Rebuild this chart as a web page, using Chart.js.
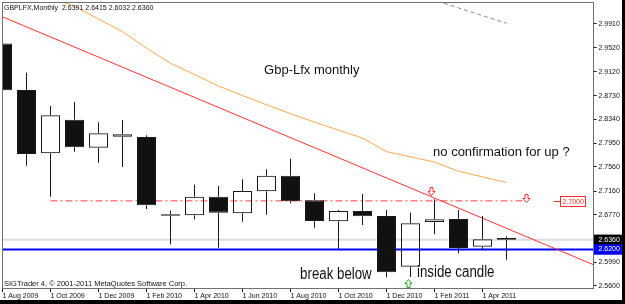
<!DOCTYPE html>
<html>
<head>
<meta charset="utf-8">
<script src="https://cdn.jsdelivr.net/npm/chart.js@4.4.0/dist/chart.umd.min.js"></script>
<style>
  html, body { margin: 0; padding: 0; background: #000; }
  canvas { display: block; }
</style>
</head>
<body>
<canvas id="myChart" width="625" height="304"></canvas>
<script>
// monthly candles GBPLFX, Aug 2009 .. May 2011
const months = ['Aug 2009', 'Sep 2009', 'Oct 2009', 'Nov 2009', 'Dec 2009', 'Jan 2010', 'Feb 2010',
  'Mar 2010', 'Apr 2010', 'May 2010', 'Jun 2010', 'Jul 2010', 'Aug 2010', 'Sep 2010', 'Oct 2010',
  'Nov 2010', 'Dec 2010', 'Jan 2011', 'Feb 2011', 'Mar 2011', 'Apr 2011', 'May 2011'];
const openV = [2.9590, 2.8824, 2.7783, 2.8335, 2.7875, 2.8056, 2.8051, 2.6779, 2.6763, 2.7069, 2.6796,
  2.7158, 2.7414, 2.7010, 2.6664, 2.6834, 2.6751, 2.5917, 2.6653, 2.6702, 2.6246, 2.6391];
const highV = [3.0008, 2.9108, 2.8560, 2.8631, 2.8292, 2.8330, 2.8079, 2.6839, 2.7266, 2.7245, 2.7355,
  2.7519, 2.7694, 2.7125, 2.6850, 2.7113, 2.6850, 2.6806, 2.7026, 2.6850, 2.6751, 2.6415];
const lowV = [2.8740, 2.7579, 2.7069, 2.7809, 2.7628, 2.7557, 2.6866, 2.6286, 2.6697, 2.6230, 2.6658,
  2.6773, 2.6960, 2.6559, 2.6209, 2.6603, 2.5743, 2.5748, 2.6450, 2.6138, 2.6192, 2.6032];
const closeV = [2.8820, 2.7771, 2.8408, 2.7881, 2.8111, 2.8095, 2.6927, 2.6756, 2.7069, 2.6806, 2.7163,
  2.7414, 2.6993, 2.6669, 2.6834, 2.6746, 2.5825, 2.6631, 2.6697, 2.6225, 2.6368, 2.6360];

// moving averages (from Oct 2009 / Jan 2011 on)
const maFastStart = 2;
const maFast = [3.0347, 3.0200, 2.9991, 2.9783, 2.9513, 2.9263, 2.9079, 2.8889, 2.8732, 2.8580, 2.8434,
  2.8296, 2.8164, 2.8034, 2.7810, 2.7725, 2.7638, 2.7488, 2.7395, 2.7301];
const maSlowStart = 17;
const maSlow = [3.0420, 3.0299, 3.0174, 3.0047, 2.9921];

// drawn objects
const trendX = [0, 25];
const trendY = [3.0027, 2.5887];
const resistX = [2, 21.69];
const resistLevel = 2.70;
const supportLevel = 2.62;
const bidLevel = closeV[closeV.length - 1];

// axes
const yTicks = [2.9910, 2.9520, 2.9120, 2.8730, 2.8340, 2.7950, 2.7560, 2.7160, 2.6770, 2.6360, 2.6200, 2.5990, 2.5600];
const xTickLabels = ['1 Aug 2009', '1 Oct 2009', '1 Dec 2009', '1 Feb 2010', '1 Apr 2010', '1 Jun 2010',
  '1 Aug 2010', '1 Oct 2010', '1 Dec 2010', '1 Feb 2011', '1 Apr 2011'];

// annotations
const noteText = ['Gbp-Lfx monthly', 'no confirmation for up ?', 'break below', 'inside candle'];
const noteAt = [10.9, 17.94, 12.4, 17.27];
const noteLevel = [2.9087, 2.7738, 2.5715, 2.5748];
const downArrowAt = [17.86, 21.81];
const downArrowLevel = [2.7097, 2.6982];
const upArrowAt = [16.9];
const upArrowLevel = [2.5715];
const priceLabelAt = 23.23;

const FONT = '"Liberation Sans", Arial, sans-serif';
const last = months.length - 1;
const header = 'GBPLFX,Monthly  ' + [openV[last], highV[last], lowV[last], closeV[last]].map(v => v.toFixed(4)).join(' ');

const isUp = i => closeV[i] >= openV[i];
const bodies = months.map((m, i) => ({ x: i, y: [openV[i], closeV[i]] }));
const upperWicks = months.map((m, i) => ({ x: i, y: [Math.max(openV[i], closeV[i]), highV[i]] }));
const lowerWicks = months.map((m, i) => ({ x: i, y: [lowV[i], Math.min(openV[i], closeV[i])] }));

function lineDs(data, color, width, dash) {
    return {
        type: 'line', data: data, borderColor: color, borderWidth: width,
        borderDash: dash || [], pointRadius: 0, fill: false, tension: 0, order: 2
    };
}

function squeezeText(ctx, text, x, y, size, sx) {
    ctx.save();
    ctx.translate(x, y);
    ctx.scale(sx, 1);
    ctx.font = size + 'px ' + FONT;
    ctx.textBaseline = 'alphabetic';
    ctx.textAlign = 'left';
    ctx.fillText(text, 0, 0);
    ctx.restore();
}

function arrow(ctx, cx, tip, dir, color) {
    // hollow wingdings-like arrow, dir 1 = down, -1 = up
    const d = dir;
    ctx.beginPath();
    ctx.moveTo(cx - 1.5, tip - 8 * d);
    ctx.lineTo(cx + 1.5, tip - 8 * d);
    ctx.lineTo(cx + 1.5, tip - 4 * d);
    ctx.lineTo(cx + 3.5, tip - 4 * d);
    ctx.lineTo(cx, tip);
    ctx.lineTo(cx - 3.5, tip - 4 * d);
    ctx.lineTo(cx - 1.5, tip - 4 * d);
    ctx.closePath();
    ctx.fillStyle = '#fff';
    ctx.fill();
    ctx.strokeStyle = color;
    ctx.lineWidth = 1;
    ctx.stroke();
}

const mt4Plugin = {
    id: 'mt4',
    beforeDraw(chart) {
        const { ctx, width, height } = chart;
        ctx.save();
        ctx.fillStyle = '#000';
        ctx.fillRect(0, 0, width, height);
        ctx.fillStyle = '#fff';
        ctx.fillRect(0, 0, width - 3, height - 4);
        ctx.restore();
    },
    afterDatasetsDraw(chart) {
        const { ctx, chartArea } = chart;
        const xs = chart.scales.x, ys = chart.scales.y;
        ctx.save();
        ctx.beginPath();
        ctx.rect(chartArea.left, chartArea.top, chartArea.right - chartArea.left, chartArea.bottom - chartArea.top);
        ctx.clip();

        ctx.fillStyle = '#111';
        noteText.forEach((t, i) => {
            const big = i >= 2;
            squeezeText(ctx, t, xs.getPixelForValue(noteAt[i]), ys.getPixelForValue(noteLevel[i]),
                big ? 16 : 13, big ? 0.83 : 1);
        });

        downArrowAt.forEach((a, i) => arrow(ctx, Math.round(xs.getPixelForValue(a)) + 0.5,
            Math.round(ys.getPixelForValue(downArrowLevel[i])) + 0.5, 1, '#ff3030'));
        upArrowAt.forEach((a, i) => arrow(ctx, Math.round(xs.getPixelForValue(a)) + 0.5,
            Math.round(ys.getPixelForValue(upArrowLevel[i])) + 0.5, -1, '#22aa22'));

        // price label of the resistance level
        const py = Math.round(ys.getPixelForValue(resistLevel)) + 0.5;
        const px = Math.round(xs.getPixelForValue(priceLabelAt)) + 0.5;
        ctx.strokeStyle = '#ff3030';
        ctx.lineWidth = 1;
        ctx.beginPath();
        ctx.moveTo(px - 7, py);
        ctx.lineTo(px, py);
        ctx.stroke();
        ctx.font = '7px ' + FONT;
        const lbl = resistLevel.toFixed(4);
        const w = Math.ceil(ctx.measureText(lbl).width) + 3;
        ctx.fillStyle = '#fff';
        ctx.fillRect(px, py - 5, w, 10);
        ctx.strokeRect(px, py - 5, w, 10);
        ctx.fillStyle = '#ff3030';
        ctx.textBaseline = 'middle';
        ctx.fillText(lbl, px + 2, py + 0.5);
        ctx.restore();
    },
    afterDraw(chart) {
        const { ctx, chartArea } = chart;
        ctx.save();
        ctx.strokeStyle = '#707070';
        ctx.lineWidth = 1;
        ctx.strokeRect(Math.floor(chartArea.left) + 0.5, Math.floor(chartArea.top) + 0.5,
            Math.round(chartArea.right - chartArea.left), Math.round(chartArea.bottom - chartArea.top));
        ctx.fillStyle = '#111';
        ctx.textBaseline = 'alphabetic';
        ctx.font = '7px ' + FONT;
        ctx.fillText(header, 4, 10);
        ctx.font = '7.5px ' + FONT;
        ctx.fillText('SIGTrader 4, \u00A9 2001-2011 MetaQuotes Software Corp.', 4, 286);
        ctx.restore();
    }
};

const special = v => Math.abs(v - bidLevel) < 1e-6 ? '#000' : (Math.abs(v - supportLevel) < 1e-6 ? '#0000ff' : null);

const ctx = document.getElementById('myChart').getContext('2d');
new Chart(ctx, {
    type: 'bar',
    data: {
        datasets: [
            {
                data: bodies, order: 0, grouped: false, barThickness: 19, inflateAmount: 0,
                backgroundColor: months.map((m, i) => isUp(i) ? 'rgba(0,0,0,0)' : '#111'),
                borderColor: '#1a1a1a', borderWidth: 1, borderSkipped: false
            },
            { data: upperWicks, order: 1, grouped: false, barThickness: 1, inflateAmount: 0, backgroundColor: '#1a1a1a', borderWidth: 0 },
            { data: lowerWicks, order: 1, grouped: false, barThickness: 1, inflateAmount: 0, backgroundColor: '#1a1a1a', borderWidth: 0 },
            lineDs(maFast.map((v, i) => ({ x: maFastStart + i, y: v })), '#ffa64d', 1),
            lineDs(maSlow.map((v, i) => ({ x: maSlowStart + i, y: v })), '#8a8a8a', 1, [4, 3]),
            lineDs(trendX.map((x, i) => ({ x: x, y: trendY[i] })), '#ff3030', 1),
            lineDs(resistX.map(x => ({ x: x, y: resistLevel })), '#ff4040', 1, [7, 3, 2, 3]),
            lineDs([{ x: 0, y: bidLevel }, { x: 25, y: bidLevel }], '#dcdcdc', 2),
            lineDs([{ x: 0, y: supportLevel }, { x: 25, y: supportLevel }], '#0000ff', 2)
        ]
    },
    options: {
        responsive: false,
        animation: false,
        devicePixelRatio: 1,
        layout: { padding: { left: 2.5, top: 2, right: 2.5, bottom: 4 } },
        plugins: { legend: { display: false }, tooltip: { enabled: false } },
        scales: {
            x: {
                type: 'linear', min: 0, max: 24.625, offset: false,
                grid: { drawOnChartArea: false, tickLength: 4, color: '#111', offset: false },
                border: { display: false },
                afterBuildTicks(scale) {
                    scale.ticks = xTickLabels.map((t, k) => ({ value: 2 * k }));
                },
                afterFit(scale) {
                    scale.height = 12;
                    scale.paddingLeft = 0;
                    scale.paddingRight = 0;
                },
                ticks: {
                    align: 'start', padding: 0, maxRotation: 0, autoSkip: false,
                    color: '#111', font: { family: FONT, size: 7 },
                    callback: (v) => xTickLabels[v / 2]
                }
            },
            y: {
                type: 'linear', position: 'right', min: 2.5567, max: 3.0271,
                grid: { drawOnChartArea: false, tickLength: 3, color: '#111' },
                border: { display: false },
                afterBuildTicks(scale) {
                    scale.ticks = yTicks.map(v => ({ value: v }));
                },
                afterFit(scale) {
                    scale.width = 29;
                    scale.paddingTop = 0;
                    scale.paddingBottom = 0;
                },
                ticks: {
                    autoSkip: false, padding: 2,
                    font: { family: FONT, size: 7 },
                    color: (c) => special(c.tick.value) ? '#fff' : '#111',
                    showLabelBackdrop: (c) => !!special(c.tick.value),
                    backdropColor: (c) => special(c.tick.value) || 'rgba(0,0,0,0)',
                    backdropPadding: { left: 5, right: 2, top: 1, bottom: 1 },
                    callback: (v) => v.toFixed(4)
                }
            }
        }
    },
    plugins: [mt4Plugin]
});
</script>
</body>
</html>
